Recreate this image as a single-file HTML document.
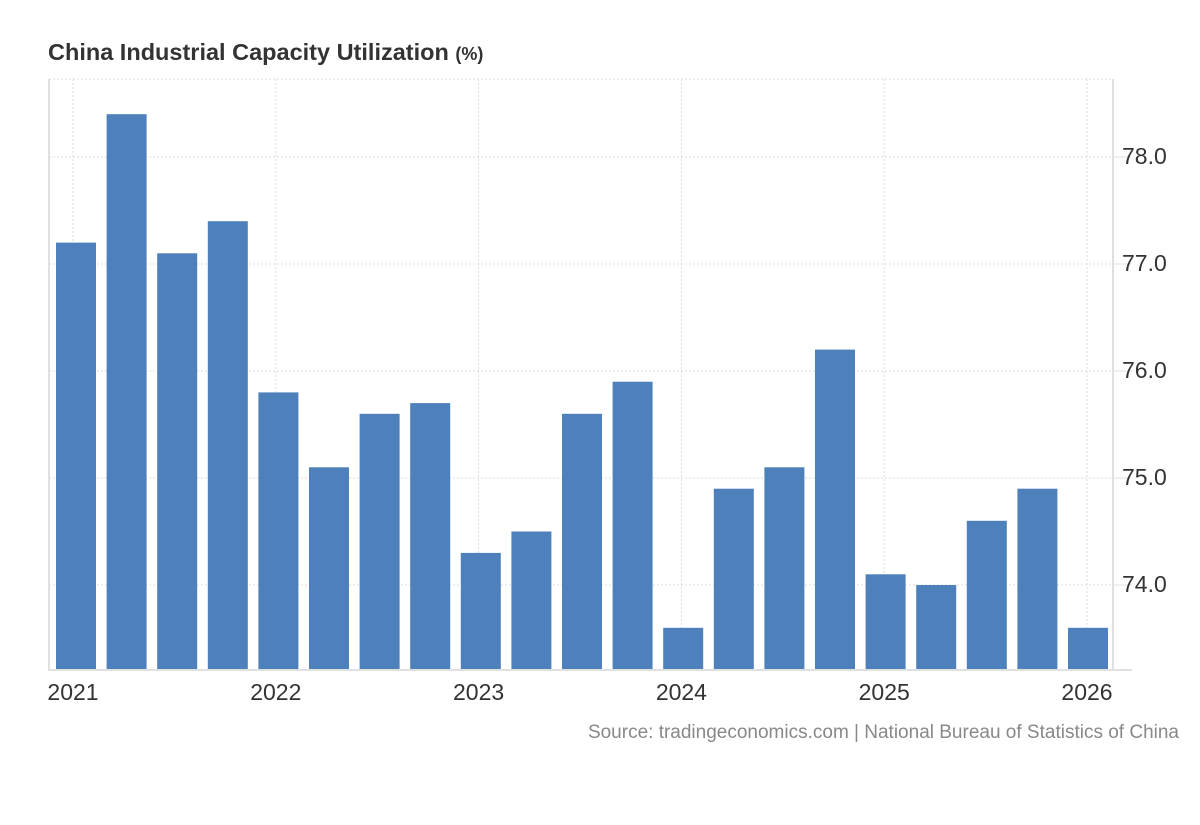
<!DOCTYPE html>
<html><head><meta charset="utf-8"><style>
body{margin:0;background:#fff;font-family:"Liberation Sans",Arial,sans-serif}
</style></head><body>
<svg id="c" width="1200" height="820" xmlns="http://www.w3.org/2000/svg">
<text x="48" y="60" font-size="23.5" font-weight="bold" fill="#333">China Industrial Capacity Utilization <tspan font-size="18">(%)</tspan></text>
<text x="1179" y="738" font-size="19" fill="#888" text-anchor="end">Source: tradingeconomics.com | National Bureau of Statistics of China</text>
<g id="grid"></g><g id="bars"></g><g id="axes"></g>
</svg>
<script>
const categories=["Q1 2021","Q2 2021","Q3 2021","Q4 2021","Q1 2022","Q2 2022","Q3 2022","Q4 2022","Q1 2023","Q2 2023","Q3 2023","Q4 2023","Q1 2024","Q2 2024","Q3 2024","Q4 2024","Q1 2025","Q2 2025","Q3 2025","Q4 2025","Q1 2026"];
const values=[77.2,78.4,77.1,77.4,75.8,75.1,75.6,75.7,74.3,74.5,75.6,75.9,73.6,74.9,75.1,76.2,74.1,74.0,74.6,74.9,73.6];
const yTicks=[74,75,76,77,78];
const yTickLabels=["74.0","75.0","76.0","77.0","78.0"];
const xYears=["2021","2022","2023","2024","2025","2026"];
const NS="http://www.w3.org/2000/svg";
const y=v=>585-(v-74)*107;
const xBar=i=>56+i*50.6;
const xYear=i=>73+i*202.8;
const grid=document.getElementById('grid'),bars=document.getElementById('bars'),axes=document.getElementById('axes');
function mk(tag,attrs,parent){const e=document.createElementNS(NS,tag);for(const k in attrs)e.setAttribute(k,attrs[k]);parent.appendChild(e);return e;}
let t=mk('line',{x1:49,x2:1113,y1:79,y2:79,stroke:'#ddd','stroke-dasharray':'2,2'},grid);


yTicks.forEach((v,i)=>{
 const g=mk('line',{x1:49,x2:1113,y1:y(v),y2:y(v),stroke:'#ddd','stroke-dasharray':'2,2'},grid);
 
 
 const tk=mk('line',{x1:1113,x2:1132,y1:y(v),y2:y(v),stroke:'#e0e0e0'},axes);
 
 
 const l=mk('text',{x:1122,y:y(v)+7,'font-size':23,fill:'#333'},axes);
 l.textContent=yTickLabels[i];
 
 
});
xYears.forEach((s,i)=>{
 const g=mk('line',{x1:xYear(i),x2:xYear(i),y1:79,y2:670,stroke:'#ddd','stroke-dasharray':'2,2'},grid);
 
 
 const l=mk('text',{x:xYear(i),y:700,'font-size':23,fill:'#333','text-anchor':'middle'},axes);
 l.textContent=s;
 
 
});
values.forEach((v,i)=>{
 const r=mk('rect',{x:xBar(i),y:y(v),width:40,height:670-y(v),fill:'#4e80bb'},bars);
 
 
});
let a=mk('line',{x1:49,x2:49,y1:79,y2:671,stroke:'#e0e0e0','stroke-width':2},axes);


a=mk('line',{x1:1113,x2:1113,y1:79,y2:671,stroke:'#e0e0e0','stroke-width':2},axes);


a=mk('line',{x1:49,x2:1132,y1:670,y2:670,stroke:'#e0e0e0','stroke-width':2},axes);


</script>
</body></html>
